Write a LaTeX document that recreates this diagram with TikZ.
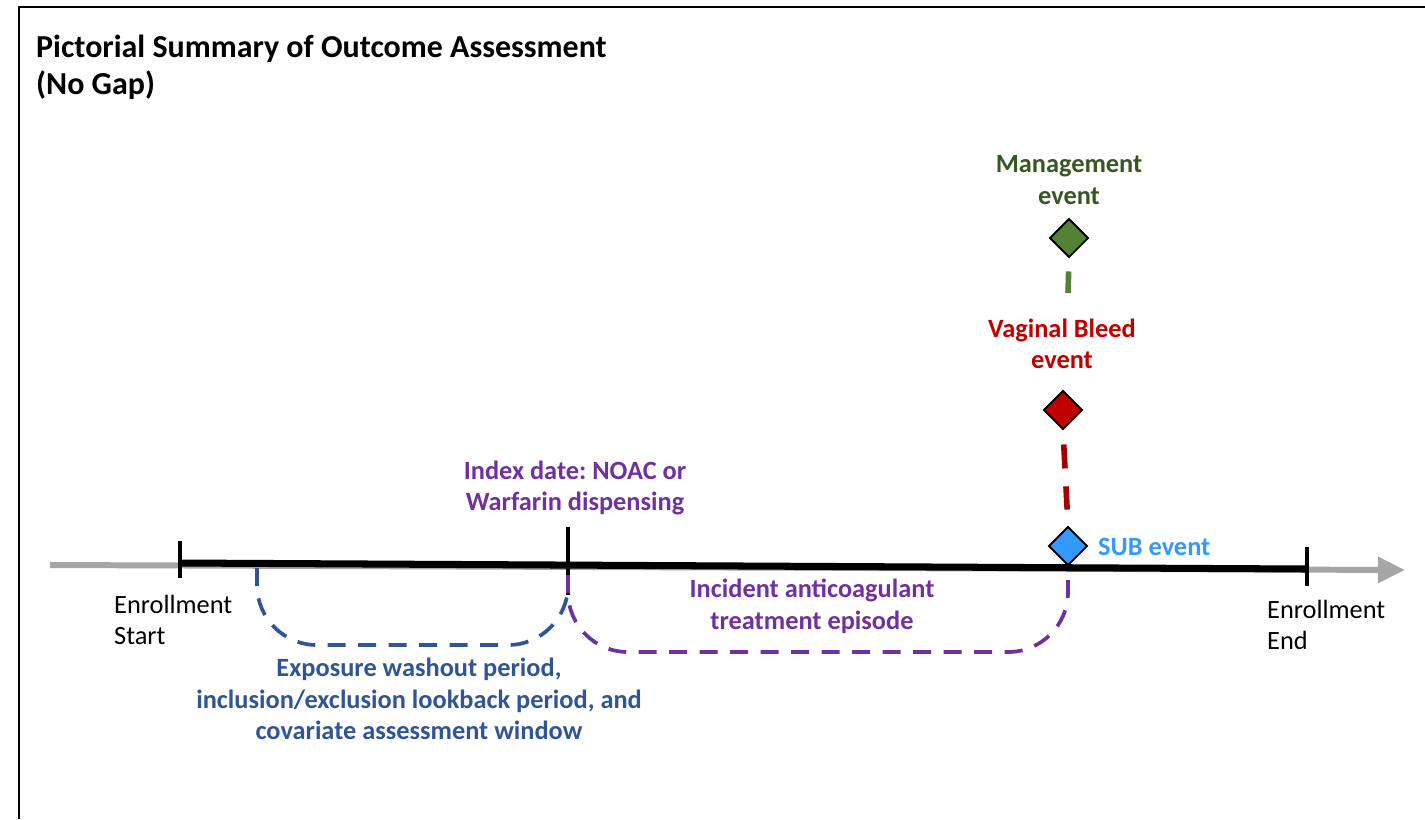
\documentclass[tikz,border=0pt]{standalone}
\usepackage{fontspec}
\setmainfont{Carlito}
\usepackage{xcolor}
\usetikzlibrary{shapes.geometric,arrows.meta,positioning,calc}

\definecolor{washblue}{HTML}{2F5597}
\definecolor{idxpurple}{HTML}{7030A0}
\definecolor{bleedred}{HTML}{C00000}
\definecolor{subblue}{HTML}{3399FF}
\definecolor{mgmtgreen}{HTML}{548235}
\definecolor{mgmtdark}{HTML}{385723}
\definecolor{axisgray}{HTML}{A6A6A6}

\begin{document}
\frenchspacing
\begin{tikzpicture}[
    x=0.02cm, y=-0.02cm,
    font=\fontsize{15}{18}\selectfont,
    title/.style={font=\bfseries\fontsize{18.2}{21}\selectfont, align=left, anchor=west},
    label/.style={font=\bfseries\fontsize{15}{18}\selectfont, align=center},
    plain/.style={align=left, anchor=west},
    event/.style={diamond, draw=black, line width=1.1pt, minimum size=0.78cm, inner sep=0pt},
    tickmark/.style={line width=2pt},
    window/.style={line width=2.1pt, rounded corners=1.2cm, dash pattern=on 0.36cm off 0.25cm},
    link/.style={line width=3.2pt, dash pattern=on 0.48cm off 0.36cm}
]
    \useasboundingbox (0,0) rectangle (1425,819);

    % --- Frame and title ---
    \draw[line width=1.2pt] (19,819) |- (1425,7);
    \node[title] (ttl) at (30,67) {Pictorial Summary of Outcome Assessment\\(No Gap)};

    % --- Timeline ---
    \coordinate (axL) at (50,565);
    \coordinate (axR) at (1405,570);
    \coordinate (enrS) at (180,563);
    \coordinate (idx) at (568,565);
    \coordinate (enrE) at (1307,569);

    \draw[axisgray, line width=3.4pt, -{Triangle[width=0.5cm,length=0.54cm]}] (axL) -- (axR);
    \draw[line width=4pt] (enrS) -- (enrE);

    \draw[tickmark] ($(enrS)+(0,-22)$) -- ($(enrS)+(0,15)$);
    \draw[tickmark] ($(idx)+(0,-38)$) -- ($(idx)+(0,30)$);
    \draw[tickmark] ($(enrE)+(0,-22)$) -- ($(enrE)+(0,17)$);

    \node[plain] (start) at (108,620) {Enrollment\\Start};
    \node[plain] (end) at (1261,625) {Enrollment\\End};

    % --- Washout window (before index) ---
    \coordinate (wS) at (257,568);
    \coordinate (wLow) at (400,645);
    \draw[washblue, window] (wS) |- (wLow) -| ($(idx)+(0,10)$);
    \node[label, text=washblue] (wash) at (419,699)
        {Exposure washout period,\\inclusion/exclusion lookback period, and\\covariate assessment window};

    % --- Index date and treatment episode ---
    \node[label, text=idxpurple] (index) at (575,488) {Index date: NOAC or\\Warfarin dispensing};

    \node[event, fill=subblue] (sub) at (1068,546) {};
    \node[label, text=subblue, anchor=west] (sublbl) at (1092,547) {SUB event};

    \coordinate (tLow) at (800,652);
    \draw[idxpurple, window] ($(idx)+(0,10)$) |- (tLow) -| ($(sub.south)+(0,5)$);
    \node[label, text=idxpurple] (episode) at (812,606) {Incident anticoagulant\\treatment episode};

    % --- Outcome events ---
    \node[event, fill=bleedred] (bleed) at (1063,410) {};
    \node[label, text=bleedred] (bleedlbl) at (1062,344) {Vaginal Bleed\\event};

    \node[event, fill=mgmtgreen] (mgmt) at (1069,238) {};
    \node[label, text=mgmtdark] (mgmtlbl) at (1069,180) {Management\\event};

    \draw[link, bleedred!85!black, shorten <=0.28cm, shorten >=0.32cm] (bleed.south) -- (sub.north);
    \coordinate (mgmtEnd) at (1068,293);
    \draw[link, mgmtgreen, shorten <=0.26cm] (mgmt.south) -- (mgmtEnd);

\end{tikzpicture}
\end{document}
